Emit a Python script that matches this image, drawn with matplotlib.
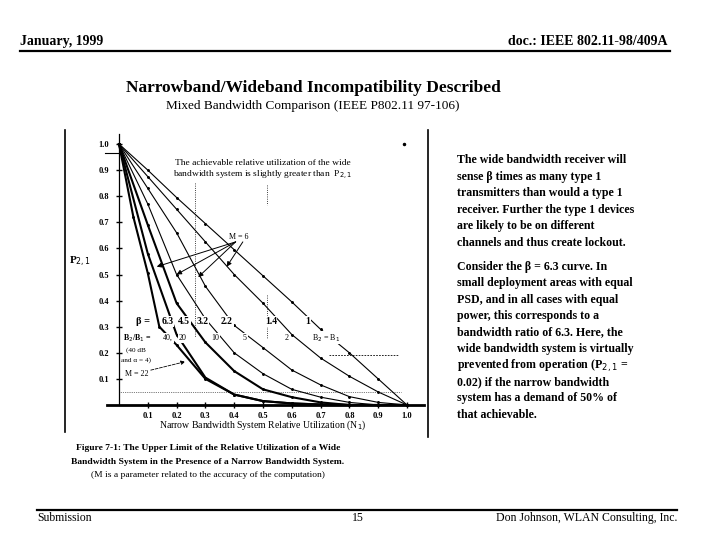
import numpy as np
import matplotlib
matplotlib.use('Agg')
from matplotlib import pyplot as plt
from matplotlib.lines import Line2D

plt.rcParams['font.family'] = ['Liberation Serif', 'DejaVu Serif']

# curve data, x = narrow band utilization
x_pts = [0.0, 0.1, 0.2, 0.3, 0.4, 0.5, 0.6, 0.7, 0.8, 0.9, 1.0]
beta_1 = [1.0, 0.9, 0.795, 0.695, 0.595, 0.495, 0.395, 0.29, 0.2, 0.1, 0.0]
beta_14 = [1.0, 0.875, 0.75, 0.625, 0.5, 0.39, 0.27, 0.18, 0.11, 0.05, 0.0]
beta_22 = [1.0, 0.83, 0.66, 0.455, 0.305, 0.22, 0.134, 0.077, 0.032, 0.01, 0.0]
beta_32 = [1.0, 0.77, 0.5, 0.33, 0.2, 0.12, 0.06, 0.03, 0.01, 0.0, 0.0]
beta_45 = [1.0, 0.69, 0.39, 0.24, 0.13, 0.06, 0.03, 0.01, 0.0, 0.0, 0.0]
beta_63 = [1.0, 0.58, 0.27, 0.105, 0.04, 0.015, 0.006, 0.002, 0.0, 0.0, 0.0]
# extra curve (M = 22)
x_m22 = [0.0, 0.05, 0.1, 0.14, 0.2, 0.3, 0.4, 0.5, 0.6, 0.7, 0.8, 0.9, 1.0]
y_m22 = [1.0, 0.72, 0.505, 0.3, 0.23, 0.1, 0.04, 0.015, 0.006, 0.002, 0.0, 0.0, 0.0]

curves = [beta_1, beta_14, beta_22, beta_32, beta_45, beta_63]
widths = [0.8, 0.8, 0.8, 0.8, 1.5, 1.5]

tick_vals = [0.1, 0.2, 0.3, 0.4, 0.5, 0.6, 0.7, 0.8, 0.9, 1.0]
tick_labels = ['0.1', '0.2', '0.3', '0.4', '0.5', '0.6', '0.7', '0.8', '0.9', '1.0']

beta_labels = ['6.3', '4.5', '3.2', '2.2', '1.4', '1']
beta_label_x = [0.168, 0.226, 0.29, 0.375, 0.527, 0.655]
ratio_labels = ['40,', '20', '10', '5', '2', 'B$_2$ = B$_1$']
ratio_label_x = [0.17, 0.22, 0.333, 0.437, 0.583, 0.72]

# M = 6 arrow targets
m6_x = [0.131, 0.2, 0.275, 0.374]
m6_y = [0.53, 0.5, 0.49, 0.53]

right_text = [
    "The wide bandwidth receiver will",
    "sense \u03b2 times as many type 1",
    "transmitters than would a type 1",
    "receiver. Further the type 1 devices",
    "are likely to be on different",
    "channels and thus create lockout.",
]
right_text2 = [
    "Consider the \u03b2 = 6.3 curve. In",
    "small deployment areas with equal",
    "PSD, and in all cases with equal",
    "power, this corresponds to a",
    "bandwidth ratio of 6.3. Here, the",
    "wide bandwidth system is virtually",
    "prevented from operation (P$_{2,1}$ =",
    "0.02) if the narrow bandwidth",
    "system has a demand of 50% of",
    "that achievable.",
]

W, H = 720, 540
fig = plt.figure(figsize=(7.2, 5.4), dpi=100)


def fx(px):
    return px / W


def fy(py):
    return 1 - py / H


# header / footer
fig.text(fx(20), fy(42), "January, 1999", fontsize=10, fontweight='bold', va='center')
fig.text(fx(668), fy(42), "doc.: IEEE 802.11-98/409A", fontsize=10, fontweight='bold',
         va='center', ha='right')
fig.add_artist(Line2D([fx(20), fx(670)], [fy(51), fy(51)], color='black', lw=1.6))
fig.add_artist(Line2D([fx(37), fx(677)], [fy(510), fy(510)], color='black', lw=1.6))
fig.text(fx(37), fy(518), "Submission", fontsize=8.5, va='center')
fig.text(fx(358), fy(518), "15", fontsize=8.5, va='center', ha='center')
fig.text(fx(677), fy(518), "Don Johnson, WLAN Consulting, Inc.", fontsize=8.5,
         va='center', ha='right')

# titles
fig.text(fx(313), fy(88), "Narrowband/Wideband Incompatibility Described", fontsize=12.5,
         fontweight='bold', ha='center', va='center')
fig.text(fx(313), fy(106), "Mixed Bandwidth Comparison (IEEE P802.11 97-106)", fontsize=9.5,
         ha='center', va='center')

# right hand text
for i, line in enumerate(right_text):
    fig.text(fx(457), fy(160 + 16.6 * i), line, fontsize=8.6, fontweight='bold', va='center')
for i, line in enumerate(right_text2):
    fig.text(fx(457), fy(267 + 16.4 * i), line, fontsize=8.6, fontweight='bold', va='center')

# caption
fig.text(fx(208), fy(448), "Figure 7-1: The Upper Limit of the Relative Utilization of a Wide",
         fontsize=6.8, fontweight='bold', ha='center', va='center')
fig.text(fx(208), fy(462), "Bandwidth System in the Presence of a Narrow Bandwidth System.",
         fontsize=6.8, fontweight='bold', ha='center', va='center')
fig.text(fx(208), fy(475), "(M is a parameter related to the accuracy of the computation)",
         fontsize=6.8, ha='center', va='center')

# frame lines around figure image
fig.add_artist(Line2D([fx(65), fx(65)], [fy(130), fy(432)], color='black', lw=1.2))
fig.add_artist(Line2D([fx(428), fx(428)], [fy(130), fy(437)], color='black', lw=1.2))

# chart axes: x=0 -> px 119, x=1 -> px 407 ; y=0 -> py 405, y=1 -> py 144
x0, sx = 119, 288
y0, sy = 405, 261
xlim = (-0.2, 1.1)
ylim = (-0.1, 1.1)
left = x0 + sx * xlim[0]
right = x0 + sx * xlim[1]
bottom = y0 - sy * ylim[0]
top = y0 - sy * ylim[1]
ax = fig.add_axes([fx(left), fy(bottom), (right - left) / W, (bottom - top) / H])
ax.set_xlim(*xlim)
ax.set_ylim(*ylim)
ax.patch.set_visible(False)

for s in ['top', 'right']:
    ax.spines[s].set_visible(False)
ax.spines['left'].set_position(('data', 0))
ax.spines['bottom'].set_position(('data', 0))
ax.spines['left'].set_bounds(0, 1.04)
ax.spines['bottom'].set_bounds(-0.04, 1.06)
ax.spines['bottom'].set_linewidth(2.0)
ax.spines['left'].set_linewidth(0.9)

ax.set_xticks(tick_vals)
ax.set_xticklabels(tick_labels, fontsize=6, fontweight='bold')
ax.set_yticks(tick_vals)
ax.set_yticklabels(tick_labels, fontsize=6, fontweight='bold')
ax.tick_params(axis='both', direction='inout', length=4, width=1.0)
ax.tick_params(axis='x', pad=3)
ax.tick_params(axis='y', pad=5)

ax.set_xlabel("Narrow Bandwidth System Relative Utilization (N$_1$)", fontsize=7,
              labelpad=1)
ax.xaxis.set_label_coords((0.5 - xlim[0]) / (xlim[1] - xlim[0]), 0.04)
ax.text(-0.135, 0.548, "P$_{2,1}$", fontsize=8, fontweight='bold', ha='center', va='center')

# curves
for yv, lw in zip(curves, widths):
    ax.plot(x_pts, yv, color='black', lw=lw, marker='o', markersize=1.1, zorder=2)
ax.plot(x_m22, y_m22, color='black', lw=1.5, marker='o', markersize=1.1, zorder=2)

# dotted guide lines
ax.plot([0.264, 0.264], [0.85, 0.26], color='black', lw=0.6, ls=':')
ax.plot([0.513, 0.513], [0.843, 0.766], color='black', lw=0.6, ls=':')
ax.plot([0.513, 0.513], [0.42, 0.257], color='black', lw=0.6, ls=':')
ax.plot([0.0, 0.98], [0.051, 0.051], color='black', lw=0.5, ls=':')
ax.plot([0.73, 0.97], [0.19, 0.19], color='black', lw=0.6, ls=(0, (2, 1.5)))
ax.plot([-0.05, 0.0], [0.965, 0.965], color='black', lw=0.8)
ax.plot([0.99], [1.0], marker='o', markersize=1.5, color='black')

ax.text(0.5, 0.927, "The achievable relative utilization of the wide", fontsize=6.8,
        ha='center', va='center')
ax.text(0.5, 0.882, "bandwidth system is slightly greater than  P$_{2,1}$", fontsize=6.8,
        ha='center', va='center')

# beta / ratio labels
lab_box = dict(fc='white', ec='none', pad=0.5)
ax.text(0.085, 0.32, "\u03b2 =", fontsize=7.5, fontweight='bold', ha='center', va='center',
        bbox=lab_box, zorder=3)
for lab, xl in zip(beta_labels, beta_label_x):
    ax.text(xl, 0.32, lab, fontsize=7, fontweight='bold', ha='center', va='center',
            bbox=lab_box, zorder=3)
ax.text(0.065, 0.257, "B$_2$/B$_1$ =", fontsize=5.8, fontweight='bold', ha='center',
        va='center', bbox=lab_box, zorder=3)
for lab, xl in zip(ratio_labels, ratio_label_x):
    ax.text(xl, 0.257, lab, fontsize=5.8, ha='center', va='center', bbox=lab_box, zorder=3)

ax.text(0.06, 0.21, "(40 dB", fontsize=5.2, ha='center', va='center', bbox=lab_box, zorder=3)
ax.text(0.06, 0.172, "and \u03b1 = 4)", fontsize=5.2, ha='center', va='center', bbox=lab_box,
        zorder=3)
ax.annotate("M = 22", xy=(0.23, 0.166), xytext=(0.06, 0.12), fontsize=5.8, ha='center',
            va='center', zorder=3,
            arrowprops=dict(arrowstyle='-|>', color='black', lw=0.6, mutation_scale=6,
                            shrinkA=0, shrinkB=0, ls='--'))

ax.text(0.415, 0.645, "M = 6", fontsize=5.8, ha='center', va='center')
for tx, ty, i in zip(m6_x, m6_y, range(len(m6_x))):
    start = (0.43, 0.625) if i == 3 else (0.405, 0.625)
    ax.annotate("", xy=(tx, ty), xytext=start,
                arrowprops=dict(arrowstyle='-|>', color='black', lw=0.7, mutation_scale=7,
                                shrinkA=0, shrinkB=0))

fig.savefig('out.png', dpi=100)
